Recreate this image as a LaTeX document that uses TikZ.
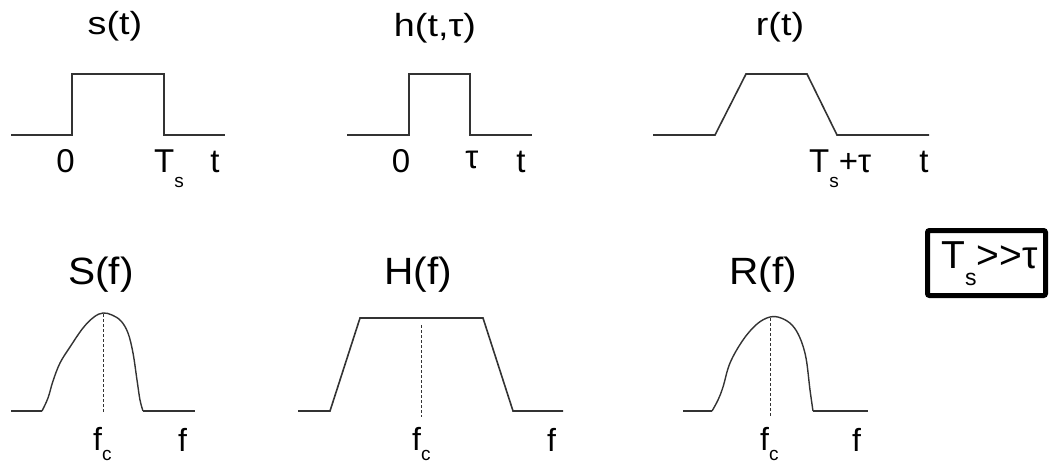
\documentclass[tikz,border=0pt]{standalone}
\usepackage{fontspec}
\usepackage{graphicx}
\setmainfont{Liberation Sans}
\newcommand\lsub[1]{\raisebox{-14pt}{\fontsize{19}{19}\selectfont #1}}
\newcommand\fsub[1]{\raisebox{-10pt}{\fontsize{19}{19}\selectfont #1}}
\newcommand\bsub[1]{\raisebox{-17pt}{\fontsize{23}{23}\selectfont #1}}
\begin{document}
\begin{tikzpicture}[x=1pt,y=-1pt,
  sig/.style={line width=1.6pt, black!80, line join=miter},
  curve/.style={line width=1.4pt, black!80},
  guide/.style={line width=1pt, black!80, dash pattern=on 3pt off 2pt},
  ttltop/.style={inner sep=0, anchor=base, font=\fontsize{32}{32}\selectfont},
  ttlbot/.style={inner sep=0, anchor=base, font=\fontsize{38}{38}\selectfont},
  lbl/.style={inner sep=0, anchor=base, font=\fontsize{33}{33}\selectfont},
  lblw/.style={inner sep=0, anchor=base west, font=\fontsize{33}{33}\selectfont},
  flbl/.style={inner sep=0, anchor=base west, font=\fontsize{32}{32}\selectfont},
  framebox/.style={line width=5pt, black, rounded corners=2pt}
]
\useasboundingbox (0,0) rectangle (1051,465);

% ---------- top row ----------
\node[ttltop] (ts) at (115,35) {\scalebox{1.18}[1]{s(t)}};
\draw[sig] (11,135) -- (72,135) -- (72,74) -- (164,74) -- (164,135) -- (225,135);
\node[lbl] (s0) at (65.5,173) {0};
\node[lblw] (sT) at (154,173) {T\lsub{s}};
\node[lbl] (st) at (215,173) {t};

\node[ttltop] (th) at (435,37) {\scalebox{1.18}[1]{h(t,τ)}};
\draw[sig] (347,135) -- (409,135) -- (409,74) -- (470,74) -- (470,135) -- (532,135);
\node[lbl] (h0) at (401,173) {0};
\node[lbl] (htau) at (472,169) {τ};
\node[lbl] (ht) at (521,173) {t};

\node[ttltop] (tr) at (780,36) {\scalebox{1.18}[1]{r(t)}};
\draw[sig] (653,135) -- (715,135) -- (746,74) -- (807,74) -- (837,135) -- (929,135);
\node[lblw] (rT) at (809,173) {T\lsub{s}+τ};
\node[lbl] (rt) at (924,173) {t};

% ---------- bottom row ----------
\node[ttlbot] (tS) at (101,284) {\scalebox{1.07}[1]{S(f)}};
\draw[sig] (11,411) -- (42,411);
\draw[curve] plot[smooth, tension=0.6] coordinates {(42,411) (48,398) (53,381) (60,363) (70,347) (83,328) (94,317) (103,313) (112,315) (121,321) (128,333) (133,353) (137,380) (140,400) (143,411)};
\draw[sig] (143,411) -- (195,411);
\draw[guide] (103,314) -- (103,413);
\node[flbl] (Sfc) at (93,450) {f\fsub{c}};
\node[flbl] (Sf) at (178,451) {f};

\node[ttlbot] (tH) at (418,284) {\scalebox{1.07}[1]{H(f)}};
\draw[sig] (298,411) -- (330,411) -- (360,318) -- (483,318) -- (513,411) -- (563,411);
\draw[guide] (421,325) -- (421,417);
\node[flbl] (Hfc) at (412,450) {f\fsub{c}};
\node[flbl] (Hf) at (547,451) {f};

\node[ttlbot] (tR) at (763,284) {\scalebox{1.07}[1]{R(f)}};
\draw[sig] (683,411) -- (712,411);
\draw[curve] plot[smooth, tension=0.6] coordinates {(712,411) (718,400) (723,387) (730,363) (743,340) (757,324) (770,317) (781,318) (792,325) (800,338) (806,358) (810,390) (813,411)};
\draw[sig] (813,411) -- (868,411);
\draw[guide] (770,318) -- (770,417);
\node[flbl] (Rfc) at (760,450) {f\fsub{c}};
\node[flbl] (Rf) at (852,451) {f};

% ---------- condition box ----------
\draw[framebox] (927.5,230.5) rectangle (1045.5,295.5);
\node[inner sep=0, anchor=base west, font=\fontsize{39}{39}\selectfont] (cond) at (941,268) {T\bsub{s}>\kern0pt>\kern0ptτ};
\end{tikzpicture}
\end{document}
